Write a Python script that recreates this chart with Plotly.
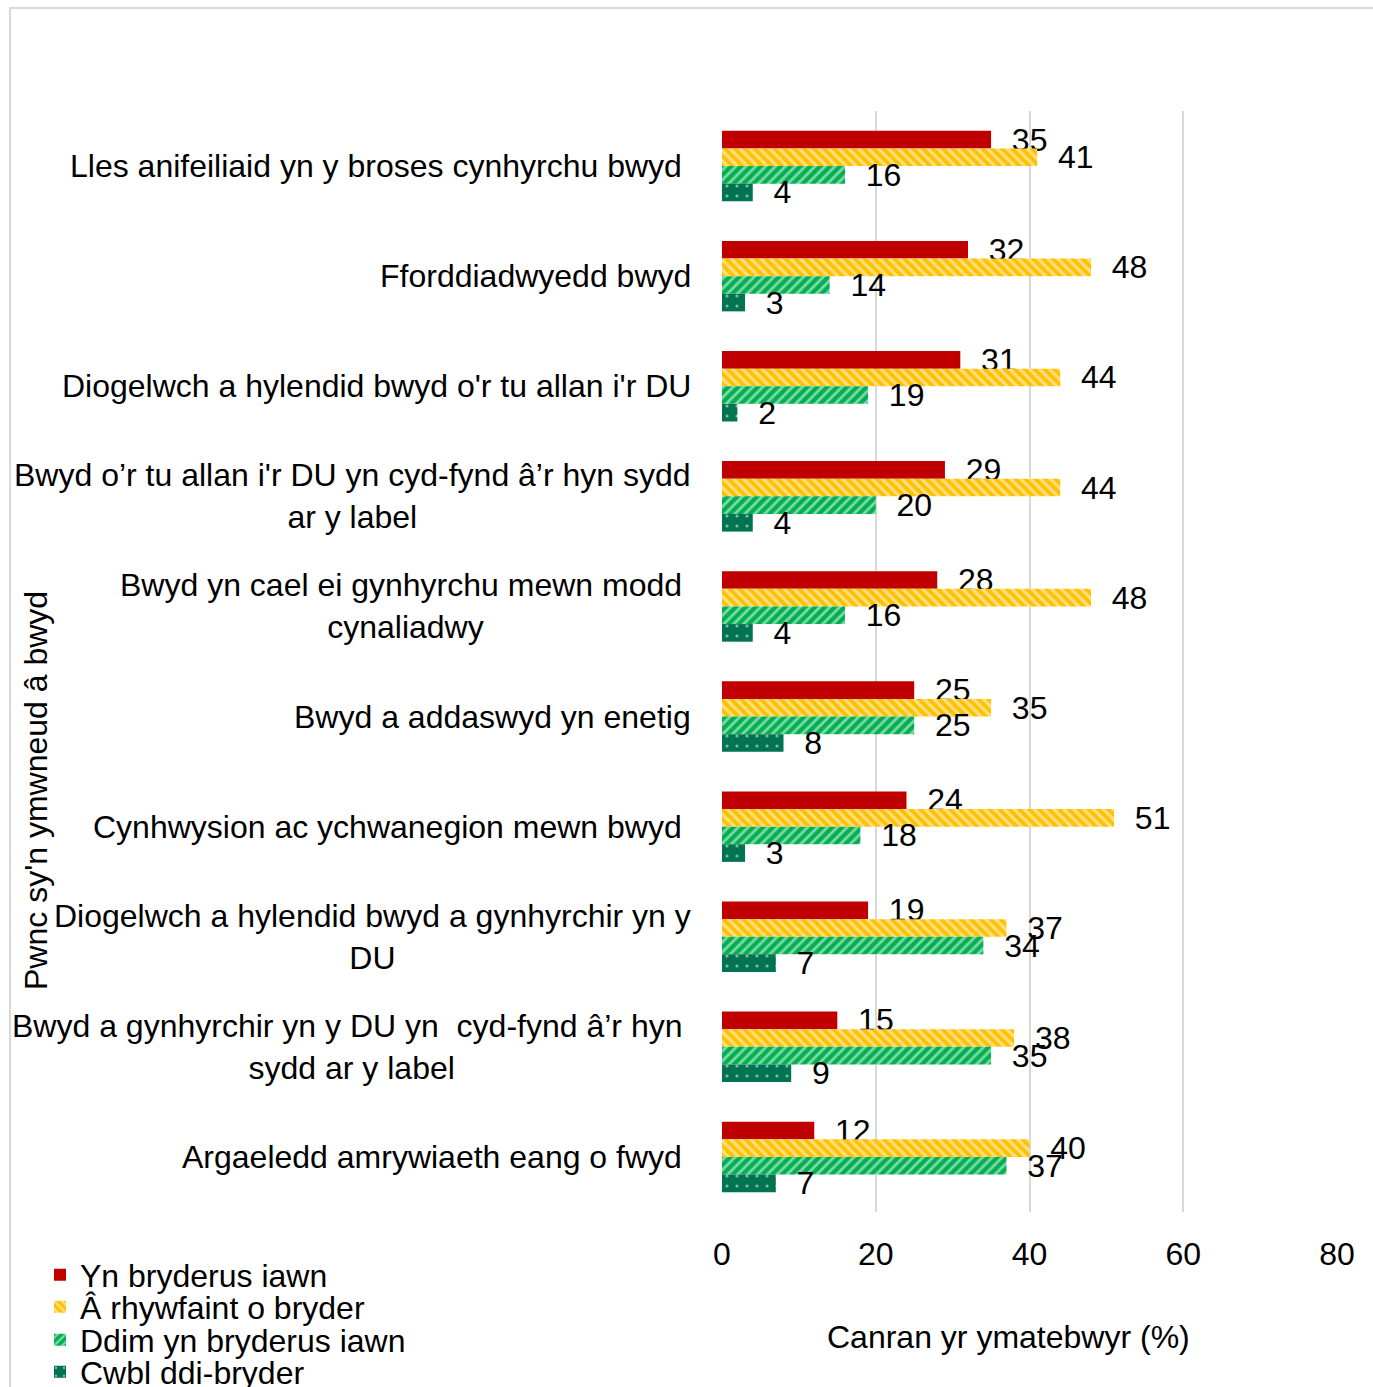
import plotly.graph_objects as go

categories = [
    "Lles anifeiliaid yn y broses cynhyrchu bwyd ",
    "Fforddiadwyedd bwyd",
    "Diogelwch a hylendid bwyd o'r tu allan i'r DU",
    "Bwyd o’r tu allan i'r DU yn cyd-fynd â’r hyn sydd<br>ar y label",
    "Bwyd yn cael ei gynhyrchu mewn modd <br>cynaliadwy",
    "Bwyd a addaswyd yn enetig",
    "Cynhwysion ac ychwanegion mewn bwyd ",
    "Diogelwch a hylendid bwyd a gynhyrchir yn y<br>DU",
    "Bwyd a gynhyrchir yn y DU yn  cyd-fynd â’r hyn <br>sydd ar y label",
    "Argaeledd amrywiaeth eang o fwyd ",
]
series_names = ["Yn bryderus iawn", "Â rhywfaint o bryder", "Ddim yn bryderus iawn", "Cwbl ddi-bryder"]
very_concerned = [35, 32, 31, 29, 28, 25, 24, 19, 15, 12]
somewhat_concerned = [41, 48, 44, 44, 48, 35, 51, 37, 38, 40]
not_very_concerned = [16, 14, 19, 20, 16, 25, 18, 34, 35, 37]
not_at_all = [4, 3, 2, 4, 4, 8, 3, 7, 9, 7]
x_ticks = [0, 20, 40, 60, 80]

FONT = "Liberation Sans, Arial, sans-serif"
FS = 32
styles = [
    dict(color="#C00000", pattern=dict(shape="")),
    dict(color="#FFC000", pattern=dict(shape="\\", fgcolor="white", fillmode="overlay", size=7, solidity=0.45)),
    dict(color="#00B050", pattern=dict(shape="/", fgcolor="white", fillmode="overlay", size=7, solidity=0.4)),
    dict(color="#007350", pattern=dict(shape=".", fgcolor="white", fillmode="overlay", size=10, solidity=0.08)),
]
values = [very_concerned, somewhat_concerned, not_very_concerned, not_at_all]
legend_ids = ["legend", "legend2", "legend3", "legend4"]

fig = go.Figure()
for name, vals, st, lg in zip(series_names, values, styles, legend_ids):
    fig.add_trace(go.Bar(
        y=categories, x=vals, orientation="h", name=name, legend=lg,
        marker=dict(color=st["color"], pattern=st["pattern"], line=dict(width=0)),
        text=vals, texttemplate="\u00a0\u00a0%{x}", textposition="outside",
        constraintext="none", cliponaxis=False,
        textfont=dict(family=FONT, size=FS, color="black"),
    ))

W, H = 1373, 1387
L, R, T, B = 722, 36, 111, 175
pw, ph = W - L - R, H - T - B

def px(x):
    return (x - L) / pw

def py(y):
    return (H - B - y) / ph

annotations = []
for c in categories:
    annotations.append(dict(
        x=px(693), xref="paper", y=c, yref="y",
        text=c.replace(" <br>", "\u00a0<br>").rstrip(" ") + ("\u00a0" if c.endswith(" ") else ""),
        xanchor="right", yanchor="middle", align="center", showarrow=False,
        font=dict(family=FONT, size=FS, color="black"),
    ))
annotations.append(dict(
    x=px(36), y=py(791), xref="paper", yref="paper", text="Pwnc sy'n ymwneud â bwyd",
    textangle=-90, showarrow=False, xanchor="center", yanchor="middle",
    font=dict(family=FONT, size=FS, color="black"),
))
annotations.append(dict(
    x=px(1008), y=py(1337), xref="paper", yref="paper", text="Canran yr ymatebwyr (%)",
    showarrow=False, xanchor="center", yanchor="middle",
    font=dict(family=FONT, size=FS, color="black"),
))

legend_y = [1275, 1307, 1340, 1372]
legends = {}
for lg, yy in zip(legend_ids, legend_y):
    legends[lg] = dict(x=px(40), y=py(yy), xanchor="left", yanchor="middle", orientation="v",
                       font=dict(family=FONT, size=FS, color="black"), bgcolor="rgba(0,0,0,0)",
                       itemwidth=30, borderwidth=0)

fig.update_layout(
    width=W, height=H,
    margin=dict(l=L, r=R, t=T, b=B, autoexpand=False),
    paper_bgcolor="white", plot_bgcolor="white",
    barmode="group", bargap=0.36, bargroupgap=0,
    font=dict(family=FONT, size=FS, color="black"),
    xaxis=dict(range=[0, 80], tickvals=x_ticks, showgrid=True, gridcolor="#d9d9d9", gridwidth=2,
               zeroline=False, showline=False, ticks="outside", ticklen=14, tickcolor="rgba(0,0,0,0)",
               tickfont=dict(family=FONT, size=FS, color="black"), fixedrange=True),
    yaxis=dict(type="category", categoryorder="array", categoryarray=categories,
               range=[9.5, -0.5], showticklabels=False, showgrid=False, zeroline=False, showline=False),
    showlegend=True,
    annotations=annotations,
    shapes=[dict(type="rect", xref="paper", yref="paper", x0=px(10), x1=px(1390), y0=py(1400), y1=py(8),
                 line=dict(color="#d9d9d9", width=2), fillcolor="rgba(0,0,0,0)", layer="below")],
    **legends,
)

fig.write_html("out.html", config={"displayModeBar": False},
               post_script="document.body.style.margin='0';document.body.style.overflow='hidden';")
